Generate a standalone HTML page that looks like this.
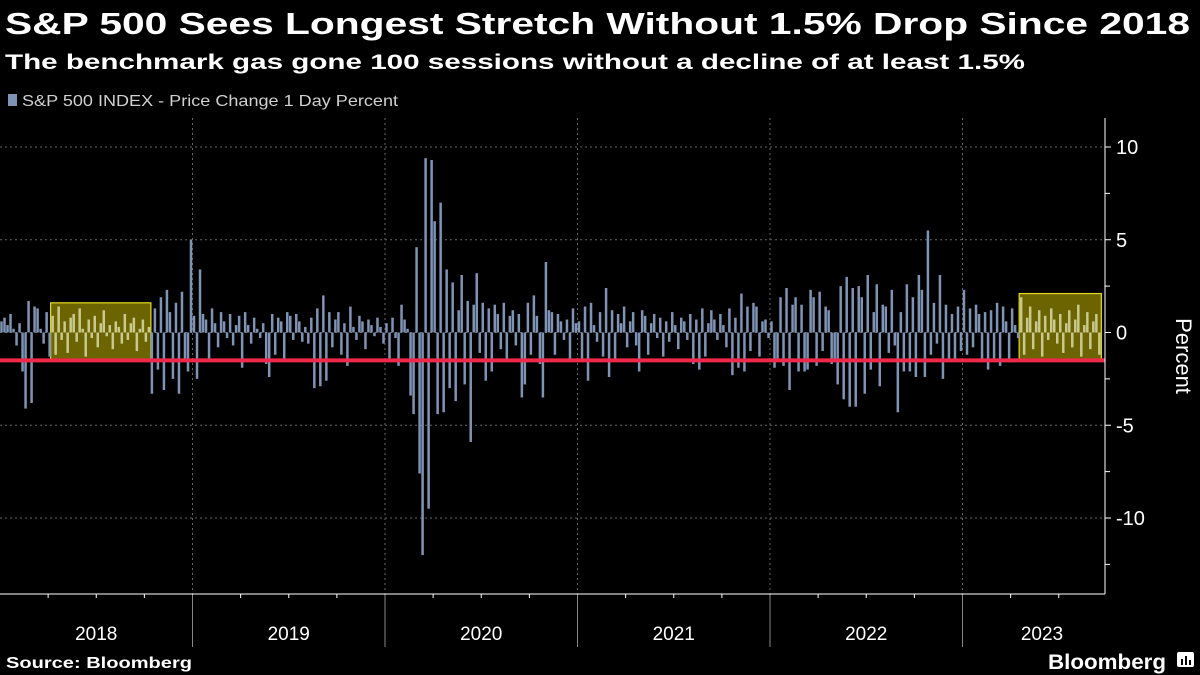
<!DOCTYPE html>
<html><head><meta charset="utf-8"><style>
html,body{margin:0;padding:0;background:#000;}
svg{display:block;font-family:"Liberation Sans",sans-serif;}
</style></head><body>
<svg id="chart" width="1200" height="675" viewBox="0 0 1200 675" xmlns="http://www.w3.org/2000/svg">
<rect width="1200" height="675" fill="#000"/>
<text x="5" y="34" font-size="31" font-weight="bold" fill="#fff" textLength="1185" lengthAdjust="spacingAndGlyphs">S&amp;P 500 Sees Longest Stretch Without 1.5% Drop Since 2018</text>
<text x="5" y="69" font-size="21" font-weight="bold" fill="#fff" textLength="1020" lengthAdjust="spacingAndGlyphs">The benchmark gas gone 100 sessions without a decline of at least 1.5%</text>
<rect x="8" y="94" width="9" height="12" fill="#7f93b5"/>
<text x="22" y="106" font-size="16" fill="#d0d0d0" textLength="376" lengthAdjust="spacingAndGlyphs">S&amp;P 500 INDEX - Price Change 1 Day Percent</text>
<g id="grid"></g>
<g id="boxes"></g>
<g id="bars"></g>
<g id="axes"></g>
<text transform="translate(1176,356) rotate(90)" text-anchor="middle" font-size="22" fill="#fff">Percent</text>
<text x="6" y="668" font-size="16" font-weight="bold" fill="#fff" textLength="186" lengthAdjust="spacingAndGlyphs">Source: Bloomberg</text>
<text x="1048" y="669" font-size="21" font-weight="bold" fill="#fff" textLength="118" lengthAdjust="spacingAndGlyphs">Bloomberg</text>
<g><rect x="1177" y="652" width="17" height="15" rx="2" fill="#fff"/><rect x="1181" y="659" width="2" height="6" fill="#000"/><rect x="1185" y="656" width="2" height="9" fill="#000"/><rect x="1189" y="660" width="2" height="5" fill="#000"/></g>
</svg>
<script>
const years = ["2018","2019","2020","2021","2022","2023"];
const yTicks = [10,5,0,-5,-10];
const threshold = -1.5;
const v2018 = [0.6,0.8,0.4,1.0,0.2,-0.7,0.5,-2.1,-4.1,1.7,-3.8,1.4,1.3,0.2,-0.6,1.1,-1.3,
 0.9,-1.2,1.4,-0.4,0.6,-1.1,0.8,1.0,-0.5,1.3,0.2,-1.3,0.7,-0.3,0.9,-0.8,0.5,1.2,-0.2,0.4,-0.9,0.6,0.3,-0.6,1.0,-0.4,0.5,0.8,-1.0,0.2,0.7,-0.5,0.3,
 -3.3,1.3,-2.0,1.9,-3.1,2.3,1.1,-2.5,1.6,-3.3,2.2,-1.5,-2.1,5.0];
const v2019 = [0.9,-2.5,3.4,1.0,0.7,-1.4,1.3,0.5,-0.8,1.1,0.6,-0.3,1.0,-0.7,0.4,0.9,-1.9,1.1,0.4,-0.6,0.8,0.2,-0.3,0.5,-1.7,-2.4,1.0,-1.2,0.8,0.6,-1.4,1.1,0.9,-0.4,1.0,0.6,-0.5,0.3,-0.6,0.8,-3.0,1.3,-2.9,2.0,-2.6,1.1,-0.8,0.7,1.1,-1.2,0.5,-1.8,1.4,0.3,-0.4,0.9,0.6,-0.9,0.7,0.4,-0.2,0.8,0.3,-0.6];
const v2020 = [0.5,-1.4,0.8,-0.3,-1.8,1.5,0.7,0.2,-3.4,-4.4,4.6,-7.6,-12.0,9.4,-9.5,9.3,6.0,-4.4,7.0,-4.3,3.4,-3.0,2.7,-3.7,1.2,3.1,-2.8,1.7,-5.9,1.5,3.2,-1.1,1.6,-2.6,1.3,-2.1,1.5,1.0,-0.9,1.6,-1.5,0.9,1.2,-0.7,1.0,-3.5,-2.8,1.6,-1.2,2.0,0.9,-1.7,-3.5,3.8,1.2,1.1,-1.2,1.0,0.6,-0.4,0.7,-1.4,1.3,0.5];
const v2021 = [0.6,-1.5,1.4,-2.6,1.6,0.4,-0.5,1.1,-1.3,2.4,-2.4,1.2,-1.5,1.0,0.5,1.4,-0.8,0.6,1.1,-0.7,-2.1,1.2,0.9,-1.2,0.5,1.0,-0.3,0.8,-1.3,0.6,-0.5,1.1,0.4,-0.9,0.8,0.6,-0.4,1.0,-1.7,0.7,-2.0,1.3,-1.3,0.5,1.2,0.7,-0.4,1.0,0.4,-0.8,1.3,-2.3,0.8,-1.9,2.1,-2.1,1.4,-1.0,1.6,1.4,-1.3,0.6,0.7,-0.3];
const v2022 = [0.6,-1.9,-1.4,1.9,-1.8,2.4,-3.1,1.5,1.9,-2.1,1.5,-2.1,-2.0,2.3,1.9,-1.8,2.2,-1.0,1.4,1.2,-1.7,-1.6,-2.8,2.5,-3.6,3.0,-4.0,2.4,-4.0,2.5,1.9,-3.3,3.1,-2.0,1.1,2.6,-2.9,1.5,1.4,-1.1,2.3,-0.7,-4.3,1.1,-2.1,2.6,-2.1,1.9,-2.4,3.1,2.3,-2.4,5.5,-1.2,1.6,-0.6,3.1,-2.5,1.5,-1.4,1.0,-1.4,1.4,-1.0];
const v2023 = [2.3,-1.2,1.3,-0.8,1.5,1.0,-1.6,1.1,-2.0,1.2,-1.4,1.6,-1.8,1.4,0.6,-1.6,1.3,0.4,-0.3,
 1.9,-1.2,0.8,1.4,-0.9,0.6,1.2,-1.3,0.9,-0.4,1.3,0.7,-0.6,1.0,-1.1,0.5,1.2,-0.8,0.7,1.5,-1.3,0.4,1.1,-0.9,0.6,1.0,-1.2];
const values = [].concat(v2018,v2019,v2020,v2021,v2022,v2023);
const periodsPerYear = 64;
const highlightRanges = [[17,49],[64*5+19,64*5+45]];

const NS="http://www.w3.org/2000/svg";
const plotL=0, plotR=1105, plotT=118, plotB=594;
const yearW=192.5;
const y = v => 332.5 - v*18.55;
const x = i => plotL + (i+0.5)*(yearW/periodsPerYear);
function mk(tag, attrs, parent){const e=document.createElementNS(NS,tag);for(const k in attrs)e.setAttribute(k,attrs[k]);parent.appendChild(e);return e;}
const grid=document.getElementById('grid'), axes=document.getElementById('axes'), bars=document.getElementById('bars'), boxes=document.getElementById('boxes');

yTicks.forEach(t=>{
  const g=mk('line',{x1:plotL,x2:plotR,y1:y(t),y2:y(t),stroke:'#666','stroke-dasharray':'2,3','stroke-width':1},grid);
  
  
  const tk=mk('line',{x1:plotR,x2:plotR+6,y1:y(t),y2:y(t),stroke:'#fff'},axes);
  
  
  const lb=mk('text',{x:plotR+11,y:y(t)+7,'font-size':20,fill:'#fff'},axes);
  lb.textContent=t;
  
  
});
for(let t=-12.5;t<=10;t+=5){
  const tk=mk('line',{x1:plotR,x2:plotR+5,y1:y(t),y2:y(t),stroke:'#fff'},axes);
  
  
}
years.forEach((yr,i)=>{
  const x0=plotL+i*yearW;
  if(i>0){
    const gl=mk('line',{x1:x0,x2:x0,y1:plotT,y2:plotB,stroke:'#666','stroke-dasharray':'2,3'},grid);
    
    
    const tk=mk('line',{x1:x0,x2:x0,y1:plotB,y2:647,stroke:'#888'},axes);
    
    
  }
  for(let q=1;q<4;q++){
    const xq=x0+q*yearW/4;
    if(xq<plotR){
      const m=mk('line',{x1:xq,x2:xq,y1:plotB,y2:plotB+4,stroke:'#fff'},axes);
      
      
    }
  }
  const cx = i===5 ? 1042 : x0+yearW/2;
  const lb=mk('text',{x:cx,y:640,'font-size':19,fill:'#fff','text-anchor':'middle'},axes);
  lb.textContent=yr;
  
  
});
const xa=mk('line',{x1:plotL,x2:plotR,y1:plotB,y2:plotB,stroke:'#fff'},axes);


const ya=mk('line',{x1:plotR,x2:plotR,y1:plotT,y2:plotB,stroke:'#fff'},axes);



highlightRanges.forEach(r=>{
  let mx=-99;
  for(let i=r[0];i<=r[1];i++){mx=Math.max(mx,values[i]);}
  const top=Math.max(mx,0)+0.2, bot=threshold;
  const bx=mk('rect',{x:x(r[0])-2,y:y(top),width:x(r[1])-x(r[0])+4,height:y(bot)-y(top),fill:'#6b6400',stroke:'#e6dc20','stroke-width':1.2},boxes);
  
  
});
const inBox=i=>highlightRanges.some(r=>i>=r[0]&&i<=r[1]);
values.forEach((v,i)=>{
  const y0=y(Math.max(v,0)), y1=y(Math.min(v,0));
  const b=mk('rect',{x:x(i)-1.25,y:y0,width:2.5,height:Math.max(y1-y0,0.8),fill:inBox(i)?'#c9c98f':'#7f93b5'},bars);
  
  
});
const rl=mk('line',{x1:plotL,x2:plotR,y1:y(threshold),y2:y(threshold),stroke:'#f0284a','stroke-width':4},bars);


</script>
</body></html>
